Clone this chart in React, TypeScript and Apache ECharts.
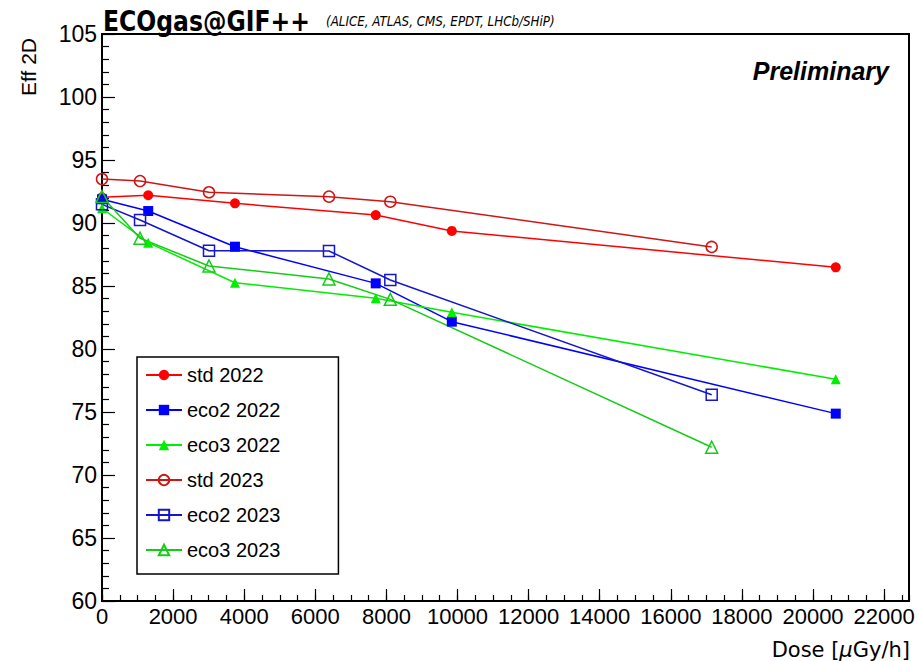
import React, { useEffect, useRef } from "react";
import * as echarts from "echarts";

// Dose [µGy/h] for each campaign
const dose2022 = [0, 1300, 3740, 7700, 9840, 20640];
const dose2023 = [0, 1070, 3010, 6385, 8110, 17150];

// Eff 2D [%]
const std2022 = [92.04, 92.2, 91.56, 90.63, 89.37, 86.48];
const eco2_2022 = [91.88, 90.95, 88.12, 85.21, 82.17, 74.87];
const eco3_2022 = [91.17, 88.44, 85.26, 84.02, 82.91, 77.6];
const std2023 = [93.49, 93.33, 92.44, 92.09, 91.69, 88.1];
const eco2_2023 = [91.48, 90.24, 87.8, 87.78, 85.48, 76.37];
const eco3_2023 = [92.1, 88.79, 86.59, 85.56, 83.94, 72.2];

const seriesNames = ["std 2022", "eco2 2022", "eco3 2022", "std 2023", "eco2 2023", "eco3 2023"];

const FONT = '"Liberation Sans", Arial, Helvetica, sans-serif';

const pairs = (xs: number[], ys: number[]) => xs.map((x, i) => [x, ys[i]]);

function lineSeries(
  name: string,
  xs: number[],
  ys: number[],
  color: string,
  symbol: string,
  filled: boolean,
  size: number
) {
  return {
    name,
    type: "line",
    data: pairs(xs, ys),
    symbol,
    symbolSize: size,
    showAllSymbol: true,
    lineStyle: { color, width: 1.5 },
    itemStyle: filled
      ? { color, borderWidth: 0 }
      : { color: "rgba(255,255,255,0)", borderColor: color, borderWidth: 1.5 },
    emphasis: { disabled: true },
    z: 3,
  };
}

export default function App() {
  const ref = useRef<HTMLDivElement>(null);

  useEffect(() => {
    if (!ref.current) return;
    const chart = echarts.init(ref.current, null, { renderer: "svg" });

    const grid = { left: 102, top: 34, width: 807, height: 567 };

    chart.setOption({
      animation: false,
      backgroundColor: "#fff",
      grid: { ...grid, show: true, borderColor: "#000", borderWidth: 2, backgroundColor: "transparent" },
      legend: {
        orient: "vertical",
        left: 137,
        top: 357,
        data: seriesNames,
        itemWidth: 36,
        itemHeight: 13,
        itemGap: 15,
        padding: [8, 58, 14, 8],
        borderColor: "#000",
        borderWidth: 1.5,
        backgroundColor: "#fff",
        textStyle: { fontFamily: FONT, fontSize: 20, color: "#000" },
        selectedMode: false,
      },
      xAxis: [
        {
          type: "value",
          min: 0,
          max: 22700,
          interval: 2000,
          axisLine: { show: true, onZero: false, lineStyle: { color: "#000", width: 2 } },
          axisTick: { show: true, inside: true, length: 12, lineStyle: { color: "#000", width: 1.2 } },
          axisLabel: {
            show: true,
            margin: 4,
            showMaxLabel: false,
            fontFamily: FONT,
            fontSize: 22,
            color: "#000",
            formatter: (v: number) => (v % 2000 === 0 ? String(v) : ""),
          },
          splitLine: { show: false },
        },
        {
          type: "value",
          min: 0,
          max: 22700,
          interval: 500,
          position: "bottom",
          axisLine: { show: false },
          axisTick: { show: true, inside: true, length: 6, lineStyle: { color: "#000", width: 1.2 } },
          axisLabel: { show: false },
          splitLine: { show: false },
        },
      ],
      yAxis: {
        type: "value",
        min: 60,
        max: 105,
        interval: 5,
        axisLine: { show: true, onZero: false, lineStyle: { color: "#000", width: 2 } },
        axisTick: { show: true, inside: true, length: 13, lineStyle: { color: "#000", width: 1.2 } },
        minorTick: { show: true, splitNumber: 5, length: 7, lineStyle: { color: "#000", width: 1.2 } },
        axisLabel: { margin: 5, fontFamily: FONT, fontSize: 23, color: "#000" },
        splitLine: { show: false },
      },
      series: [
        lineSeries(seriesNames[0], dose2022, std2022, "#ff0000", "circle", true, 10),
        lineSeries(seriesNames[1], dose2022, eco2_2022, "#0000ff", "rect", true, 10),
        lineSeries(seriesNames[2], dose2022, eco3_2022, "#00ee00", "triangle", true, 10),
        lineSeries(seriesNames[3], dose2023, std2023, "#d01515", "circle", false, 11),
        lineSeries(seriesNames[4], dose2023, eco2_2023, "#1515cc", "rect", false, 11),
        lineSeries(seriesNames[5], dose2023, eco3_2023, "#15cc15", "triangle", false, 12),
      ],
      graphic: [
        {
          type: "text",
          x: 103,
          y: 7,
          scaleX: 0.84,
          style: {
            text: "ECOgas@GIF++",
            font: 'bold 28px "DejaVu Sans", sans-serif',
            fill: "#000",
            textAlign: "left",
            textVerticalAlign: "top",
          },
        },
        {
          type: "text",
          x: 326,
          y: 21,
          scaleX: 0.85,
          style: {
            text: "(ALICE, ATLAS, CMS, EPDT, LHCb/SHiP)",
            font: 'italic 14px "DejaVu Sans", sans-serif',
            fill: "#000",
            textAlign: "left",
            textVerticalAlign: "middle",
          },
        },
        {
          type: "text",
          x: 889,
          y: 71,
          style: {
            text: "Preliminary",
            font: `italic bold 25px ${FONT}`,
            fill: "#000",
            textAlign: "right",
            textVerticalAlign: "middle",
          },
        },
        {
          type: "text",
          x: 28,
          y: 67,
          rotation: Math.PI / 2,
          style: {
            text: "Eff 2D",
            font: `21px ${FONT}`,
            fill: "#000",
            textAlign: "center",
            textVerticalAlign: "middle",
          },
        },
        {
          type: "text",
          x: 910,
          y: 650,
          style: {
            text: "{a|Dose [}{b|μ}{a|Gy/h]}",
            textAlign: "right",
            textVerticalAlign: "middle",
            fill: "#000",
            rich: {
              a: { fontFamily: '"DejaVu Sans", sans-serif', fontSize: 21, fill: "#000" },
              b: { fontFamily: '"DejaVu Sans", sans-serif', fontStyle: "italic", fontSize: 21, fill: "#000" },
            },
          },
        },
      ],
    });

    return () => chart.dispose();
  }, []);

  return (
    <div
      ref={ref}
      style={{ position: "fixed", left: 0, top: 0, width: 918, height: 661, background: "#fff" }}
    />
  );
}
